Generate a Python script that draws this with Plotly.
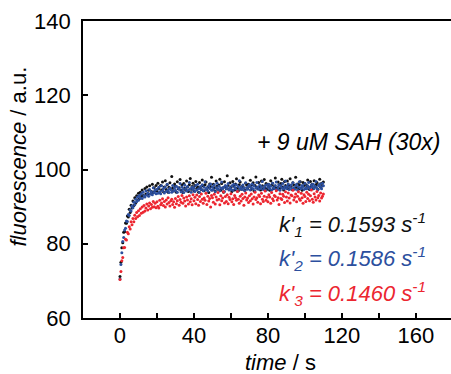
import plotly.graph_objects as go

# sampling times (s), 0.5 s steps from 0 to 110 s
time_s = [i * 0.5 for i in range(221)]

black_vals = [
    71.2, 75.0, 78.9, 80.3, 83.1, 83.2, 85.6, 85.5, 87.5, 87.2, 89.3, 88.4, 90.4, 89.6, 91.5, 90.3, 92.4, 91.0, 92.9, 91.8,
    93.6, 92.1, 93.9, 92.7, 94.5, 93.0, 92.8, 94.9, 93.4, 95.3, 93.2, 94.4, 95.6, 93.5, 94.1, 96.0, 93.8, 95.1, 94.3, 95.7,
    94.2, 96.3, 94.9, 93.8, 95.7, 94.5, 96.6, 94.0, 95.3, 97.0, 94.6, 95.9, 93.9, 95.2, 96.4, 94.7, 98.1, 95.0, 94.3, 96.1,
    95.5, 93.9, 96.7, 94.8, 95.1, 97.3, 94.4, 95.8, 93.8, 96.2, 95.0, 94.5, 96.9, 95.3, 94.1, 95.9, 97.6, 94.7, 95.4, 96.3,
    94.2, 95.7, 96.8, 94.9, 95.3, 93.9, 96.5, 95.0, 94.6, 97.2, 95.6, 94.3, 95.9, 96.6, 94.8, 95.2, 93.8, 96.1, 95.4, 97.9,
    94.5, 96.0, 95.1, 94.2, 96.9, 95.5, 94.7, 95.8, 97.4, 94.4, 96.2, 95.0, 93.9, 96.7, 95.3, 94.8, 98.3, 95.6, 94.6, 96.4,
    95.2, 94.1, 96.8, 95.7, 94.5, 96.1, 97.5, 95.0, 94.3, 95.9, 96.6, 94.7, 95.4, 97.8, 95.1, 94.4, 96.3, 95.8, 94.9, 96.0,
    95.5, 97.1, 94.6, 95.9, 96.4, 94.2, 95.7, 98.0, 95.2, 94.8, 96.5, 95.3, 94.5, 96.9, 95.6, 94.9, 97.3, 95.1, 96.2, 94.7,
    96.0, 95.4, 94.4, 97.0, 95.8, 96.3, 94.8, 95.5, 97.7, 95.0, 94.6, 96.6, 95.9, 94.9, 96.2, 97.4, 95.3, 94.5, 96.8, 95.7,
    95.1, 96.9, 94.8, 95.6, 97.5, 95.4, 94.6, 96.4, 95.8, 94.9, 97.9, 95.2, 96.1, 94.7, 95.9, 96.7, 95.0, 94.4, 96.5, 95.6,
    96.2, 94.9, 95.7, 97.2, 95.3, 94.6, 96.8, 95.5, 96.0, 94.8, 97.0, 95.4, 95.9, 96.5, 94.7, 95.8, 97.4, 95.2, 96.3, 95.6,
    96.6,
]

blue_vals = [
    70.5, 74.4, 77.6, 80.6, 81.7, 83.7, 84.2, 86.1, 86.0, 87.9, 87.6, 89.1, 88.8, 90.2, 89.7, 91.2, 90.5, 92.0, 91.3, 92.6,
    91.7, 93.0, 92.4, 93.5, 92.2, 93.9, 92.9, 92.6, 94.3, 93.1, 93.7, 92.8, 94.6, 93.4, 94.0, 93.2, 95.1, 93.8, 94.4, 93.5,
    94.7, 93.6, 95.2, 94.0, 93.5, 95.6, 94.3, 94.9, 93.7, 95.3, 94.1, 96.0, 94.5, 93.8, 95.0, 94.6, 93.9, 95.7, 94.2, 95.1,
    94.4, 95.5, 93.9, 95.1, 94.7, 96.2, 94.0, 95.3, 94.6, 93.8, 95.8, 94.9, 94.2, 95.4, 94.5, 96.5, 94.8, 93.9, 95.2, 94.6,
    95.0, 94.1, 95.7, 94.5, 96.0, 94.8, 93.9, 95.4, 94.7, 95.9, 94.3, 95.2, 96.7, 94.6, 95.0, 94.2, 95.6, 94.9, 96.1, 94.4,
    95.3, 94.6, 95.8, 94.0, 95.1, 96.3, 94.7, 95.5, 94.3, 95.0, 96.6, 94.8, 95.2, 94.1, 95.7, 94.9, 95.4, 96.2, 94.5, 95.1,
    94.7, 95.6, 94.4, 96.0, 95.2, 94.8, 95.9, 94.2, 95.4, 97.0, 94.9, 95.3, 94.6, 95.8, 95.0, 94.3, 96.4, 95.1, 94.7, 95.5,
    95.9, 94.5, 95.2, 96.1, 94.8, 95.6, 94.2, 95.0, 96.5, 95.3, 94.7, 95.8, 94.9, 95.4, 96.8, 94.6, 95.1, 95.7, 94.4, 95.9,
    95.2, 96.0, 94.8, 95.5, 94.5, 96.3, 95.1, 94.9, 95.7, 96.6, 94.7, 95.3, 95.9, 94.4, 95.6, 95.0, 96.2, 94.8, 95.4, 96.9,
    94.9, 95.5, 96.1, 94.6, 95.2, 95.8, 94.8, 96.4, 95.0, 94.7, 95.6, 96.0, 94.5, 95.3, 96.7, 95.1, 94.9, 95.7, 95.4, 94.6,
    96.2, 95.0, 94.8, 95.6, 96.5, 95.2, 94.7, 95.9, 95.3, 96.0, 94.9, 95.5, 96.8, 95.1, 94.6, 95.7, 96.1, 95.4, 94.8, 96.3,
    95.6,
]

red_vals = [
    70.4, 72.5, 75.4, 76.3, 78.9, 79.0, 81.2, 81.0, 83.1, 82.7, 84.6, 84.0, 85.9, 85.1, 86.8, 85.9, 87.7, 86.8, 88.4, 87.3,
    88.9, 87.6, 89.4, 88.2, 89.9, 88.5, 90.3, 88.8, 89.6, 90.7, 89.1, 90.2, 91.0, 89.4, 90.6, 89.8, 91.4, 90.0, 90.9, 89.7,
    91.3, 90.1, 89.6, 91.7, 90.5, 91.0, 92.1, 90.3, 91.4, 89.9, 91.8, 90.7, 92.4, 91.1, 90.2, 91.6, 92.0, 90.6, 91.3, 89.8,
    92.2, 90.8, 91.6, 92.7, 90.4, 91.9, 91.2, 93.0, 90.9, 92.3, 91.5, 90.2, 92.6, 91.8, 90.7, 92.9, 91.3, 92.1, 90.5, 93.2,
    91.6, 92.5, 90.8, 93.1, 91.9, 90.4, 92.7, 91.4, 93.4, 92.0, 90.9, 92.3, 91.7, 93.6, 90.6, 92.8, 91.5, 92.2, 89.9, 93.0,
    92.4, 91.2, 93.3, 90.7, 92.6, 91.8, 93.8, 92.0, 90.5, 92.9, 91.6, 92.3, 94.0, 91.0, 92.7, 91.4, 93.2, 90.8, 92.5, 91.9,
    93.5, 91.3, 92.1, 90.6, 93.0, 92.4, 91.7, 94.1, 92.0, 90.9, 92.8, 91.5, 93.3, 92.2, 90.4, 92.6, 93.7, 91.8, 92.3, 91.1,
    92.9, 91.6, 93.4, 92.1, 90.7, 92.6, 93.9, 91.9, 92.4, 91.2, 93.1, 92.7, 90.8, 93.6, 92.0, 91.4, 92.8, 94.2, 91.7, 92.5,
    91.3, 93.2, 92.6, 90.9, 93.8, 92.1, 91.6, 93.0, 92.7, 94.3, 91.8, 92.4, 90.6, 93.5, 92.2, 91.9, 93.3, 92.8, 91.1, 94.0,
    92.6, 91.5, 93.7, 92.3, 91.0, 93.1, 92.9, 94.4, 91.8, 92.5, 93.4, 91.3, 92.8, 94.0, 92.1, 91.7, 93.6, 92.4, 90.9, 93.2,
    92.7, 91.4, 93.9, 92.2, 93.3, 91.6, 92.9, 94.5, 92.0, 91.2, 93.5, 92.6, 91.8, 94.1, 92.4, 93.0, 91.5, 93.7, 92.3, 92.8,
    93.4,
]

series = [
    ("k'1", black_vals, "#111111"),
    ("k'2", blue_vals, "#2c4f9e"),
    ("k'3", red_vals, "#ec2630"),
]

x_ticks = [0, 40, 80, 120, 160]
y_ticks = [60, 80, 100, 120, 140]

FONT = "Liberation Sans, Arial, sans-serif"

fig = go.Figure()
for name, vals, color in series:
    n = min(len(time_s), len(vals))
    fig.add_trace(go.Scatter(
        x=time_s[:n], y=vals[:n], mode="markers", name=name,
        marker=dict(size=3, color=color, line=dict(width=0)),
        showlegend=False,
    ))

fig.update_layout(
    width=451, height=374,
    margin=dict(l=83, r=0, t=21, b=56),
    paper_bgcolor="white", plot_bgcolor="white",
    font=dict(family=FONT, size=22, color="black"),
)
fig.update_xaxes(
    range=[-20, 179], tickvals=x_ticks, ticks="inside", ticklen=5, tickwidth=1.5,
    tickcolor="black", showline=True, linewidth=1.8, linecolor="black",
    mirror=True, showgrid=False, zeroline=False,
    minor=dict(dtick=20, tick0=0, ticks="inside", ticklen=5, tickwidth=1.5, tickcolor="black"),
    tickfont=dict(size=22), ticklabelstandoff=-3,
)
fig.update_yaxes(
    range=[60, 140], tickvals=y_ticks, ticks="inside", ticklen=5, tickwidth=1.5,
    tickcolor="black", showline=True, linewidth=1.8, linecolor="black",
    mirror=False, showgrid=False, zeroline=False,
    tickfont=dict(size=22), ticklabelstandoff=6,
)

annots = [
    dict(text="<i>time</i> / s", x=0.538, y=-0.1515, xref="paper", yref="paper",
         xanchor="center", yanchor="middle", showarrow=False, font=dict(size=22)),
    dict(text="<i>fluorescence</i> / a.u.", x=-0.1766, y=0.5438, xref="paper", yref="paper",
         xanchor="center", yanchor="middle", showarrow=False, textangle=-90, font=dict(size=22)),
    dict(text="<i>+ 9 uM SAH (30x)</i>", x=174, y=107.4, xref="x", yref="y",
         xanchor="right", yanchor="middle", showarrow=False, font=dict(size=23, color="black")),
    dict(text="<i>k'<sub>1</sub> = 0.1593 s<sup>-1</sup></i>", x=85, y=85.3, xref="x", yref="y",
         xanchor="left", yanchor="middle", showarrow=False, font=dict(size=22, color="#111111")),
    dict(text="<i>k'<sub>2</sub> = 0.1586 s<sup>-1</sup></i>", x=85, y=75.9, xref="x", yref="y",
         xanchor="left", yanchor="middle", showarrow=False, font=dict(size=22, color="#2c4f9e")),
    dict(text="<i>k'<sub>3</sub> = 0.1460 s<sup>-1</sup></i>", x=85, y=66.5, xref="x", yref="y",
         xanchor="left", yanchor="middle", showarrow=False, font=dict(size=22, color="#ec2630")),
]
fig.update_layout(annotations=annots)

fig.write_html("out.html")
